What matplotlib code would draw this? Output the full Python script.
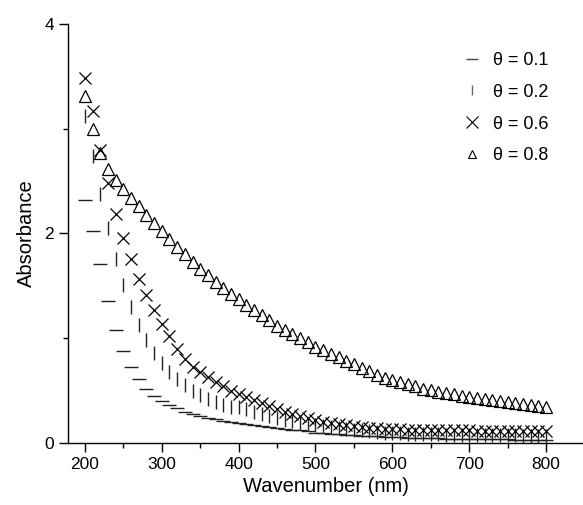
import numpy as np
import matplotlib
matplotlib.use("Agg")
from matplotlib import pyplot as plt
from matplotlib.lines import Line2D

plt.rcParams['font.family'] = ['Liberation Sans', 'DejaVu Sans']

wl = list(range(200, 801, 10))

# absorbance for each theta, one value per 10 nm from 200 to 800
abs_01 = [2.32, 2.02, 1.71, 1.36, 1.08, 0.88, 0.73, 0.61, 0.52, 0.45,
          0.40, 0.36, 0.33, 0.30, 0.28, 0.26, 0.24, 0.225, 0.21, 0.20,
          0.19, 0.18, 0.17, 0.16, 0.15, 0.14, 0.13, 0.125, 0.12, 0.11,
          0.10, 0.095, 0.09, 0.085, 0.08, 0.075, 0.07, 0.066, 0.062, 0.058,
          0.055, 0.053, 0.051, 0.049, 0.047, 0.045, 0.043, 0.042, 0.041, 0.040,
          0.039, 0.038, 0.037, 0.036, 0.035, 0.034, 0.033, 0.032, 0.031, 0.030,
          0.030]
abs_02 = [3.12, 2.74, 2.38, 2.05, 1.76, 1.51, 1.30, 1.13, 0.98, 0.86,
          0.76, 0.68, 0.61, 0.55, 0.50, 0.46, 0.42, 0.39, 0.36, 0.34,
          0.34, 0.32, 0.30, 0.28, 0.26, 0.24, 0.22, 0.21, 0.19, 0.18,
          0.17, 0.16, 0.15, 0.14, 0.13, 0.125, 0.12, 0.11, 0.105, 0.10,
          0.095, 0.092, 0.09, 0.088, 0.086, 0.084, 0.082, 0.08, 0.079, 0.078,
          0.077, 0.076, 0.075, 0.074, 0.073, 0.072, 0.072, 0.071, 0.071, 0.070,
          0.070]
abs_06 = [3.48, 3.17, 2.80, 2.48, 2.19, 1.96, 1.76, 1.57, 1.41, 1.27,
          1.14, 1.02, 0.90, 0.80, 0.73, 0.68, 0.63, 0.58, 0.54, 0.50,
          0.47, 0.44, 0.41, 0.38, 0.35, 0.32, 0.30, 0.28, 0.26, 0.24,
          0.22, 0.205, 0.19, 0.18, 0.17, 0.16, 0.15, 0.145, 0.14, 0.135,
          0.13, 0.13, 0.128, 0.126, 0.125, 0.124, 0.123, 0.122, 0.121, 0.12,
          0.12, 0.119, 0.118, 0.117, 0.116, 0.115, 0.114, 0.113, 0.112, 0.111,
          0.11]
abs_08 = [3.31, 3.00, 2.77, 2.62, 2.51, 2.42, 2.34, 2.26, 2.18, 2.10,
          2.02, 1.95, 1.87, 1.80, 1.73, 1.66, 1.60, 1.54, 1.48, 1.42,
          1.37, 1.32, 1.27, 1.22, 1.17, 1.12, 1.08, 1.04, 1.00, 0.96,
          0.92, 0.89, 0.85, 0.82, 0.78, 0.75, 0.72, 0.69, 0.65, 0.62,
          0.60, 0.58, 0.56, 0.54, 0.52, 0.51, 0.49, 0.48, 0.47, 0.45,
          0.44, 0.43, 0.42, 0.41, 0.40, 0.39, 0.38, 0.37, 0.36, 0.35,
          0.34]

labels = ['θ = 0.1', 'θ = 0.2', 'θ = 0.6', 'θ = 0.8']

fig = plt.figure(figsize=(5.83, 5.05), dpi=100)
ax = fig.add_axes([0.1166, 0.1228, 0.8834, 0.8297])

ax.plot(wl, abs_01, ls='none', marker='_', ms=10, mew=1.0, color='#222222')
ax.plot(wl, abs_02, ls='none', marker='|', ms=10, mew=1.0, color='#222222')
ax.plot(wl, abs_06, ls='none', marker='x', ms=9, mew=0.9, color='black')
ax.plot(wl, abs_08, ls='none', marker='^', ms=8, mew=0.9, color='black',
        markerfacecolor='none')

ax.set_xlim(178, 848)
ax.set_ylim(0, 4)
ax.set_xticks(range(200, 801, 100))
ax.set_xticks(range(250, 801, 100), minor=True)
ax.set_yticks([0, 2, 4])
ax.set_yticks([1, 3], minor=True)
ax.tick_params(which='major', direction='out', length=6.5, width=1, labelsize=12.5)
ax.tick_params(which='minor', direction='out', length=3.5, width=1)
for s in ['top', 'right']:
    ax.spines[s].set_visible(False)
for s in ['left', 'bottom']:
    ax.spines[s].set_linewidth(1)

ax.set_xlabel('Wavenumber (nm)', fontsize=14.5, labelpad=4)
ax.set_ylabel('Absorbance', fontsize=14.5, labelpad=6)

# legend symbols drawn at their own sizes
handles = [
    Line2D([], [], ls='none', marker='_', ms=9, mew=1.0, color='#444444'),
    Line2D([], [], ls='none', marker='|', ms=7, mew=1.0, color='#666666'),
    Line2D([], [], ls='none', marker='x', ms=9, mew=0.8, color='black'),
    Line2D([], [], ls='none', marker='^', ms=6, mew=0.8, color='black',
           markerfacecolor='none'),
]
ax.legend(handles, labels, loc='upper left', bbox_to_anchor=(463 / 583, 1 - 52 / 505),
          bbox_transform=fig.transFigure, frameon=False, fontsize=13,
          handlelength=1.0, handletextpad=0.65,
          labelspacing=0.82, borderpad=0, borderaxespad=0)

fig.savefig('out.png', dpi=100)
